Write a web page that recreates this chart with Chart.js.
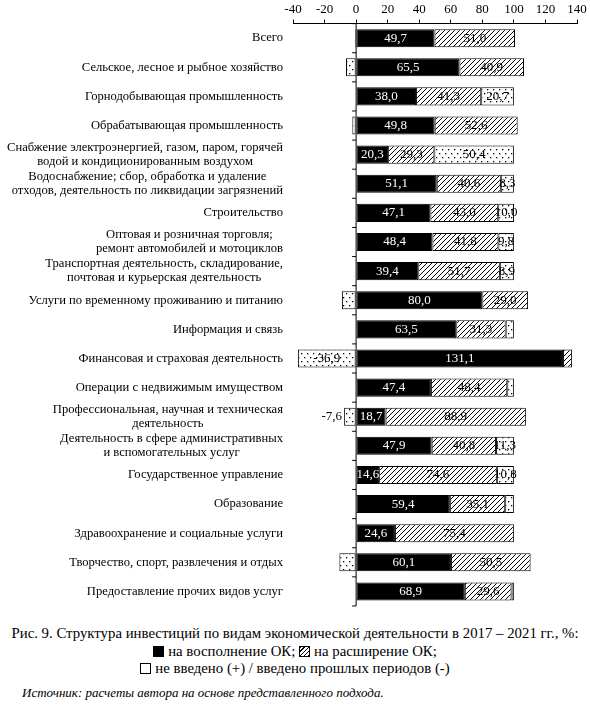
<!DOCTYPE html>
<html lang="ru">
<head>
    <meta charset="UTF-8">
    <title>Структура инвестиций по видам экономической деятельности</title>
    <style>
        body { margin: 0; background: #fff; font-family: 'Liberation Serif', 'Times New Roman', serif; color: #000; overflow: hidden; }
        .chart-box { position: relative; width: 590px; height: 612px; }
        .caption { text-align: center; font-size: 14.8px; line-height: 17.5px; margin-top: 13px; }
        .source { font-style: italic; font-size: 13px; margin: 7px 0 0 22px; }
        .sw { display: inline-block; width: 9px; height: 9px; border: 1px solid #000; vertical-align: -1px; margin-right: 4px; }
        .sw.black { background: #000; }
        .sw.hatch { background: repeating-linear-gradient(-45deg, #000 0 1px, #fff 1px 3px); }
        .sw.empty { background: #fff; }
    </style>
</head>
<body>
    <div class="chart-box">
        <canvas id="investChart"></canvas>
    </div>
    <div class="caption">
        Рис. 9. Структура инвестиций по видам экономической деятельности в 2017 – 2021 гг., %:<br>
        <span class="sw black"></span>на восполнение ОК; <span class="sw hatch"></span>на расширение ОК;<br>
        <span class="sw empty"></span>не введено (+) / введено прошлых периодов (-)
    </div>
    <div class="source">Источник: расчеты автора на основе представленного подхода.</div>

    <script src="https://cdn.jsdelivr.net/npm/chart.js"></script>
    <script>
        const categories = [
            'Всего',
            'Сельское, лесное и рыбное хозяйство',
            'Горнодобывающая промышленность',
            'Обрабатывающая промышленность',
            ['Снабжение электроэнергией, газом, паром, горячей', 'водой и кондиционированным воздухом'],
            ['Водоснабжение; сбор, обработка и удаление', 'отходов, деятельность по ликвидации загрязнений'],
            'Строительство',
            ['Оптовая и розничная торговля;', 'ремонт автомобилей и мотоциклов'],
            ['Транспортная деятельность, складирование,', 'почтовая и курьерская деятельность'],
            'Услуги по временному проживанию и питанию',
            'Информация и связь',
            'Финансовая и страховая деятельность',
            'Операции с недвижимым имуществом',
            ['Профессиональная, научная и техническая', 'деятельность'],
            ['Деятельность в сфере административных', 'и вспомогательных услуг'],
            'Государственное управление',
            'Образование',
            'Здравоохранение и социальные услуги',
            'Творчество, спорт, развлечения и отдых',
            'Предоставление прочих видов услуг'
        ];
        // на восполнение ОК
        const replacement = [49.7, 65.5, 38.0, 49.8, 20.3, 51.1, 47.1, 48.4, 39.4, 80.0, 63.5, 131.1, 47.4, 18.7, 47.9, 14.6, 59.4, 24.6, 60.1, 68.9];
        // на расширение ОК
        const expansion = [51.0, 40.9, 41.3, 52.6, 29.3, 40.6, 43.0, 41.8, 51.7, 29.0, 31.3, 5.8, 48.4, 88.9, 40.8, 74.6, 35.1, 75.4, 50.5, 29.6];
        // не введено (+) / введено прошлых периодов (-)
        const notCommissioned = [-0.7, -6.4, 20.7, -2.4, 50.4, 8.3, 10.0, 9.8, 8.9, -9.0, 5.2, -36.9, 4.2, -7.6, 11.3, 10.8, 5.5, 0, -10.6, 1.5];
        const labelNotCommissioned = [false, false, true, false, true, true, true, true, true, false, false, true, false, true, true, true, false, false, false, false];
        const xMin = -40, xMax = 140, xStep = 20;

        // финансовая: расширение почти не видно, подписи нет
        const labelExpansion = expansion.map((v, i) => i !== 11);

        const serif = "'Liberation Serif', 'Times New Roman', serif";
        Chart.defaults.font.family = serif;
        Chart.defaults.color = '#000';

        function makeHatch() {
            const c = document.createElement('canvas');
            c.width = 5; c.height = 5;
            const g = c.getContext('2d');
            g.fillStyle = '#fff';
            g.fillRect(0, 0, 5, 5);
            g.strokeStyle = '#000';
            g.lineWidth = 1;
            g.beginPath();
            g.moveTo(0, 5); g.lineTo(5, 0);
            g.moveTo(-1, 1); g.lineTo(1, -1);
            g.moveTo(4, 6); g.lineTo(6, 4);
            g.stroke();
            return g.createPattern(c, 'repeat');
        }

        function makeDots() {
            const c = document.createElement('canvas');
            c.width = 6; c.height = 8;
            const g = c.getContext('2d');
            g.fillStyle = '#fff';
            g.fillRect(0, 0, 6, 8);
            g.fillStyle = '#000';
            g.fillRect(1, 1, 1.3, 1.3);
            g.fillRect(4, 5, 1.3, 1.3);
            return g.createPattern(c, 'repeat');
        }

        function fmt(v) {
            return v.toFixed(1).replace('.', ',');
        }

        // нулевая линия и засечки между категориями
        const zeroLine = {
            id: 'zeroLine',
            afterDatasetsDraw(chart) {
                const ctx = chart.ctx;
                const x = chart.scales.x.getPixelForValue(0);
                const y = chart.scales.y;
                const area = chart.chartArea;
                ctx.save();
                ctx.strokeStyle = '#000';
                ctx.lineWidth = 1;
                ctx.beginPath();
                ctx.moveTo(x, area.top);
                ctx.lineTo(x, area.bottom);
                const step = y.getPixelForValue(1) - y.getPixelForValue(0);
                for (let i = 0; i <= categories.length; i++) {
                    const by = y.getPixelForValue(i) - step / 2;
                    ctx.moveTo(x - 4, by);
                    ctx.lineTo(x, by);
                }
                ctx.stroke();
                ctx.restore();
            }
        };

        // подписи категорий: блок прижат вправо, строки по центру
        const categoryLabels = {
            id: 'categoryLabels',
            afterDraw(chart) {
                const ctx = chart.ctx;
                const y = chart.scales.y;
                const right = chart.chartArea.left - 10;
                ctx.save();
                ctx.font = '12.6px ' + serif;
                ctx.fillStyle = '#000';
                ctx.textAlign = 'center';
                ctx.textBaseline = 'middle';
                categories.forEach((cat, i) => {
                    const lines = Array.isArray(cat) ? cat : [cat];
                    const w = Math.max(...lines.map(l => ctx.measureText(l).width));
                    const cx = right - w / 2;
                    const cy = y.getPixelForValue(i) - (lines.length - 1) * 14 / 2;
                    lines.forEach((l, j) => ctx.fillText(l, cx, cy + j * 14));
                });
                ctx.restore();
            }
        };

        // значения на сегментах
        const valueLabels = {
            id: 'valueLabels',
            afterDatasetsDraw(chart) {
                const ctx = chart.ctx;
                const shows = [replacement.map(() => true), labelExpansion, labelNotCommissioned];
                ctx.save();
                ctx.font = '13px ' + serif;
                ctx.textBaseline = 'middle';
                chart.data.datasets.forEach((ds, di) => {
                    const meta = chart.getDatasetMeta(di);
                    meta.data.forEach((bar, i) => {
                        if (!shows[di][i]) return;
                        const v = ds.data[i];
                        const p = bar.getProps(['x', 'y', 'base'], true);
                        const text = fmt(v);
                        const tw = ctx.measureText(text).width;
                        const w = Math.abs(p.x - p.base);
                        ctx.fillStyle = di === 0 ? '#fff' : '#000';
                        if (v < 0 && w < tw) {
                            ctx.textAlign = 'right';
                            ctx.fillText(text, Math.min(p.x, p.base) - 2, p.y);
                        } else {
                            ctx.textAlign = 'center';
                            ctx.fillText(text, (p.x + p.base) / 2, p.y);
                        }
                    });
                });
                ctx.restore();
            }
        };

        const ctx = document.getElementById('investChart').getContext('2d');
        new Chart(ctx, {
            type: 'bar',
            data: {
                labels: categories,
                datasets: [
                    { label: 'на восполнение ОК', data: replacement, backgroundColor: '#000' },
                    { label: 'на расширение ОК', data: expansion, backgroundColor: makeHatch() },
                    { label: 'не введено (+) / введено прошлых периодов (-)', data: notCommissioned, backgroundColor: makeDots() }
                ]
            },
            options: {
                indexAxis: 'y',
                responsive: true,
                maintainAspectRatio: false,
                animation: false,
                layout: { padding: { top: 0, right: 13, bottom: 6, left: 0 } },
                datasets: {
                    bar: {
                        borderColor: '#000',
                        borderWidth: 1,
                        borderSkipped: false,
                        categoryPercentage: 1,
                        barPercentage: 0.62
                    }
                },
                plugins: {
                    legend: { display: false },
                    tooltip: { enabled: false }
                },
                scales: {
                    x: {
                        position: 'top',
                        stacked: true,
                        min: xMin,
                        max: xMax,
                        ticks: { stepSize: xStep, font: { size: 13 }, padding: 2, color: '#000' },
                        grid: { drawOnChartArea: false, drawTicks: true, tickLength: 4, color: '#000' },
                        border: { display: true, color: '#000', width: 1 }
                    },
                    y: {
                        stacked: true,
                        offset: true,
                        ticks: { display: false },
                        grid: { display: false },
                        border: { display: false },
                        afterFit(scale) { scale.width = 293; }
                    }
                }
            },
            plugins: [zeroLine, valueLabels, categoryLabels]
        });
    </script>
</body>
</html>
